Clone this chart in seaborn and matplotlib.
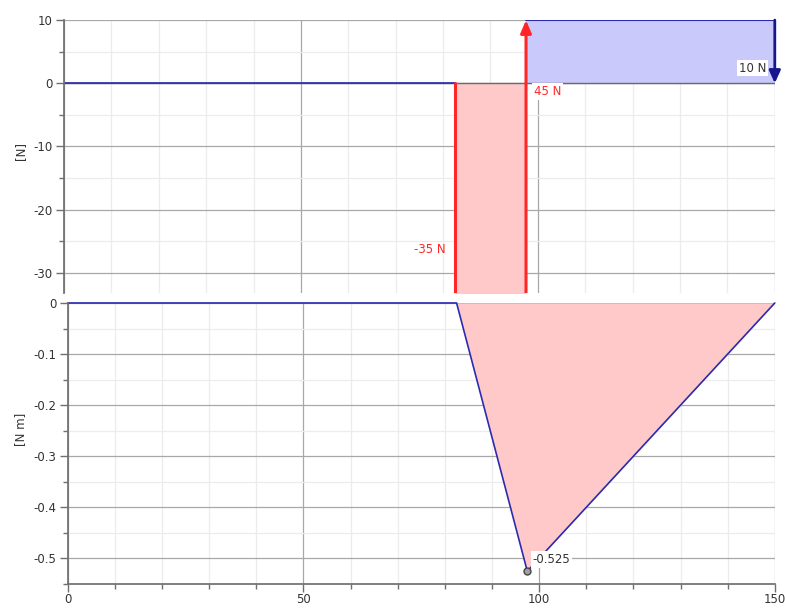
import numpy as np
import pandas as pd
import matplotlib
matplotlib.use("Agg")
import matplotlib.pyplot as plt
from matplotlib.patches import FancyArrowPatch
from matplotlib.ticker import MultipleLocator
import seaborn as sns

# Beam geometry and loads (positions in mm, forces in N)
x_shear = [0, 82.5, 82.5, 97.5, 97.5, 150]
v_shear = [0, 0, -35, -35, 10, 10]
x_moment = [0, 82.5, 97.5, 150]
m_moment = [0, 0, -0.525, 0]
load_pos = [82.5, 97.5, 150]
load_val = [-35, 45, -10]
load_text = ["-35 N", "45 N", "10 N"]
moment_peak_x = 97.5
moment_peak_v = -0.525
moment_peak_text = "-0.525"
x_ticks = [0, 50, 100, 150]

sns.set_theme(style="white")
plt.rcParams["font.family"] = ["DejaVu Sans"]
plt.rcParams["axes.unicode_minus"] = False

RED = "#ff2626"
RED_FILL = "#ffc9c9"
BLUE = "#2b2bb0"
BLUE_DARK = "#16168f"
BLUE_FILL = "#c9c9fb"
MAJOR = "#a8a8a8"
MINOR = "#ececec"
SPINE = "#707070"
TXT = "#333333"

fig = plt.figure(figsize=(7.85, 6.09), dpi=100)
ax1 = fig.add_axes([0.0815, 0.519, 0.9055, 0.448])
ax2 = fig.add_axes([0.0862, 0.041, 0.9008, 0.4615])


def style_axes(ax, ymaj, ymin):
    ax.set_xlim(0, 150)
    ax.xaxis.set_major_locator(MultipleLocator(50))
    ax.xaxis.set_minor_locator(MultipleLocator(10))
    ax.yaxis.set_major_locator(MultipleLocator(ymaj))
    ax.yaxis.set_minor_locator(MultipleLocator(ymin))
    ax.grid(which="minor", color=MINOR, lw=0.9, zorder=0)
    ax.grid(which="major", color=MAJOR, lw=0.9, zorder=0.5)
    ax.set_axisbelow(True)
    for s in ["top", "right"]:
        ax.spines[s].set_visible(False)
    ax.spines["left"].set_color(SPINE)
    ax.spines["bottom"].set_color(SPINE)
    ax.tick_params(which="major", left=True, length=6, width=1, color=SPINE,
                   labelsize=8.5, labelcolor=TXT, pad=2)
    ax.tick_params(which="minor", left=True, length=3.5, width=1, color=SPINE)
    ax.set_facecolor("white")


# ---- Shear force diagram ----
style_axes(ax1, 10, 5)
ax1.set_ylim(-33.2, 10)
ax1.spines["bottom"].set_visible(False)
ax1.tick_params(axis="x", which="both", bottom=False, labelbottom=False)

shear = pd.DataFrame({"x": x_shear, "V": v_shear})
ax1.fill_between(shear["x"], shear["V"], 0, where=shear["V"] <= 0,
                 color=RED_FILL, lw=0, zorder=1, interpolate=False)
ax1.fill_between([load_pos[1], load_pos[2]], [v_shear[-1]] * 2, 0,
                 color=BLUE_FILL, lw=0, zorder=1)
ax1.axhline(0, color="#6a6a6a", lw=1, zorder=1.2)
sns.lineplot(data=shear.iloc[:2], x="x", y="V", ax=ax1, color=BLUE, lw=1.2,
             zorder=2, estimator=None, sort=False)
ax1.plot(shear["x"].iloc[4:], shear["V"].iloc[4:], color=BLUE, lw=1.5, zorder=2)

# applied load at 82.5 (its head lies below the visible range)
ax1.plot([load_pos[0], load_pos[0]], [0, load_val[0]], color=RED, lw=2.2, zorder=3)
# support reaction at 97.5
a2 = FancyArrowPatch((load_pos[1], load_val[0]), (load_pos[1], load_val[0] + load_val[1]),
                     arrowstyle="-|>,head_length=7.5,head_width=3.2",
                     color=RED, lw=2.2, zorder=3, shrinkA=0, shrinkB=0)
ax1.add_patch(a2)
a2.set_clip_on(True)
# end load at 150
a3 = FancyArrowPatch((load_pos[2], 10), (load_pos[2], 10 + load_val[2]),
                     arrowstyle="-|>,head_length=7.5,head_width=3.4",
                     color=BLUE_DARK, lw=2.0, zorder=3, shrinkA=0, shrinkB=0)
ax1.add_patch(a3)
a3.set_clip_on(False)

box = dict(boxstyle="square,pad=0.15", fc="white", ec="none")
ax1.text(80.6, -26.3, load_text[0], color=RED, fontsize=8.5, ha="right", va="center")
ax1.text(99.2, -1.3, load_text[1], color=RED, fontsize=8.5, ha="left", va="center",
         bbox=box, zorder=4)
ax1.text(148.2, 2.4, load_text[2], color=TXT, fontsize=8.5, ha="right", va="center",
         bbox=box, zorder=4)
ax1.set_ylabel("[N]", fontsize=8.5, color=TXT)
ax1.set_xlabel("")

# ---- Bending moment diagram ----
style_axes(ax2, 0.1, 0.05)
ax2.set_ylim(-0.55, 0.0)
ax2.set_xticks(x_ticks)
ax2.tick_params(axis="x", which="major", bottom=True, length=6, labelsize=8.5, pad=0.5)
ax2.tick_params(axis="x", which="minor", bottom=True, length=3.5)
ax2.set_yticks([0, -0.1, -0.2, -0.3, -0.4, -0.5])
ax2.set_yticklabels(["0", "-0.1", "-0.2", "-0.3", "-0.4", "-0.5"])

moment = pd.DataFrame({"x": x_moment, "M": m_moment})
ax2.fill_between(moment["x"], moment["M"], 0, color=RED_FILL, lw=0, zorder=1)
sns.lineplot(data=moment, x="x", y="M", ax=ax2, color=BLUE, lw=1.2, zorder=2,
             estimator=None, sort=False, clip_on=False)
ax2.plot([moment_peak_x], [moment_peak_v], marker="o", ms=5, mfc="#a0a0a0",
         mec="#444444", mew=1, zorder=4, clip_on=False)
ax2.text(98.6, -0.502, moment_peak_text, color=TXT, fontsize=8.5, ha="left",
         va="center", bbox=box, zorder=4)
ax2.set_ylabel("[N m]", fontsize=8.5, color=TXT)
ax2.set_xlabel("")

ax1.yaxis.set_label_coords(-0.052, 0.52)
ax2.yaxis.set_label_coords(-0.058, 0.55)

fig.savefig("out.png", dpi=100)
